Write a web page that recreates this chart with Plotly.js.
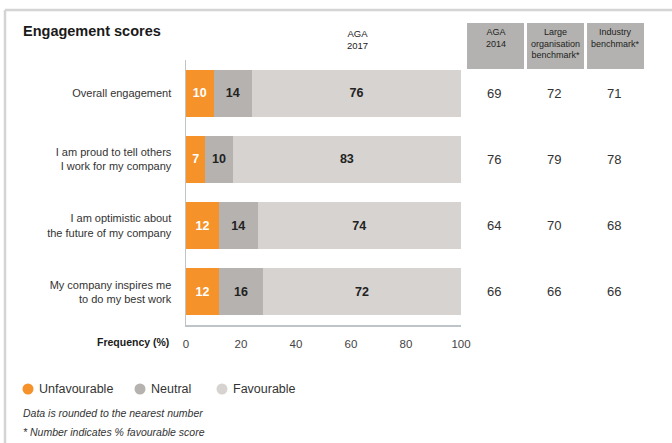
<!DOCTYPE html>
<html>
<head>
<meta charset="utf-8">
<script src="https://cdn.plot.ly/plotly-3.0.1.min.js"></script>
<style>html,body{margin:0;padding:0;background:#fff;}#chart{width:672px;height:443px;}</style>
</head>
<body>
<div id="chart"></div>
<script>
// ---- data ----
const categories = [
  "Overall engagement",
  "I am proud to tell others<br>I work for my company",
  "I am optimistic about<br>the future of my company",
  "My company inspires me<br>to do my best work"
];
const seriesNames = ["Unfavourable", "Neutral", "Favourable"];
const unfavourable = [10, 7, 12, 12];
const neutral = [14, 10, 14, 16];
const favourable = [76, 83, 74, 72];
const aga2014 = [69, 76, 64, 66];
const largeOrgBenchmark = [72, 79, 70, 66];
const industryBenchmark = [71, 78, 68, 66];
const tableHeaders = ["AGA<br>2014", "Large<br>organisation<br>benchmark*", "Industry<br>benchmark*"];
const xTicks = [0, 20, 40, 60, 80, 100];

// ---- styles ----
const FONT = "'Liberation Sans Narrow', 'Arial Narrow', 'Liberation Sans', Arial, sans-serif";
const colors = ["#f5922a", "#b5b2af", "#d6d3d0"];
const textColors = ["#ffffff", "#222222", "#222222"];
const seriesData = [unfavourable, neutral, favourable];
const yIdx = categories.map((_, i) => i);

// pixel -> paper helpers (plot area: x 186..461, y 60..325)
const L = 186, R = 461, T = 60, B = 325;
const px = x => (x - L) / (R - L);
const py = y => (B - y) / (B - T);

const traces = seriesData.map((vals, s) => ({
  type: "bar",
  orientation: "h",
  name: seriesNames[s],
  x: vals,
  y: yIdx,
  width: 0.71,
  marker: {color: colors[s], line: {width: 0}},
  text: vals.map(String),
  textposition: "inside",
  insidetextanchor: "middle",
  textfont: {family: FONT, size: 12.5, color: textColors[s], weight: "bold"},
  hoverinfo: "skip",
  showlegend: false
}));

const annotations = [];
const shapes = [];

// title
annotations.push({xref: "paper", yref: "paper", x: px(21), y: py(31), xanchor: "left", yanchor: "middle",
  text: "<b>Engagement scores</b>", showarrow: false, font: {family: FONT, size: 14.5, color: "#1a1a1a"}});
// AGA 2017 header
annotations.push({xref: "paper", yref: "paper", x: px(357), y: py(26), xanchor: "center", yanchor: "top",
  text: "AGA<br>2017", showarrow: false, align: "center", font: {family: FONT, size: 9.5, color: "#222"}});
// Frequency label
annotations.push({xref: "paper", yref: "paper", x: px(171), y: py(342), xanchor: "right", yanchor: "middle",
  text: "<b>Frequency (%)</b>", showarrow: false, font: {family: FONT, size: 10.5, color: "#1a1a1a"}});

// table headers + values
const boxEdges = [[467, 524], [527, 584], [587, 644]];
const tableCols = [aga2014, largeOrgBenchmark, industryBenchmark];
boxEdges.forEach((e, c) => {
  shapes.push({type: "rect", xref: "paper", yref: "paper", x0: px(e[0]), x1: px(e[1]), y0: py(69), y1: py(23),
    fillcolor: "#b4b2b0", line: {width: 0}, layer: "below"});
  annotations.push({xref: "paper", yref: "paper", x: px((e[0] + e[1]) / 2), y: py(25), xanchor: "center", yanchor: "top",
    text: tableHeaders[c], showarrow: false, align: "center", font: {family: FONT, size: 9, color: "#222"}});
  tableCols[c].forEach((v, i) => {
    annotations.push({xref: "paper", yref: "y", x: px((e[0] + e[1]) / 2 - 1.5), y: i, xanchor: "center", yanchor: "middle",
      text: String(v), showarrow: false, font: {family: FONT, size: 13, color: "#333"}});
  });
});

// legend (circles + text)
const legendCircleX = [28, 140, 222];
seriesNames.forEach((n, s) => {
  const cx = legendCircleX[s], cy = 389, r = 5.5;
  shapes.push({type: "circle", xref: "paper", yref: "paper", x0: px(cx - r), x1: px(cx + r), y0: py(cy + r), y1: py(cy - r),
    fillcolor: colors[s], line: {width: 0}});
  annotations.push({xref: "paper", yref: "paper", x: px(cx + 9), y: py(cy), xanchor: "left", yanchor: "middle",
    text: n, showarrow: false, font: {family: FONT, size: 12.5, color: "#333"}});
});

// notes
annotations.push({xref: "paper", yref: "paper", x: px(21), y: py(413), xanchor: "left", yanchor: "middle",
  text: "<i>Data is rounded to the nearest number</i>", showarrow: false, font: {family: FONT, size: 10.5, color: "#333"}});
annotations.push({xref: "paper", yref: "paper", x: px(21), y: py(432), xanchor: "left", yanchor: "middle",
  text: "<i>* Number indicates % favourable score</i>", showarrow: false, font: {family: FONT, size: 10.5, color: "#333"}});

// outer frame lines
shapes.push({type: "line", xref: "paper", yref: "paper", x0: px(5), x1: px(672), y0: py(10), y1: py(10), line: {color: "#d4d4d4", width: 2.5}});
shapes.push({type: "line", xref: "paper", yref: "paper", x0: px(5), x1: px(5), y0: py(10), y1: py(443), line: {color: "#d4d4d4", width: 2.5}});

const layout = {
  width: 672, height: 443,
  margin: {l: L, r: 672 - R, t: T, b: 443 - B, pad: 0},
  paper_bgcolor: "#ffffff", plot_bgcolor: "#ffffff",
  barmode: "stack",
  showlegend: false,
  xaxis: {range: [0, 100], tickvals: xTicks, ticktext: xTicks.map(String), showgrid: false, zeroline: false,
    showline: true, linecolor: "#bfc4c9", linewidth: 1.5, ticks: "", ticklabelstandoff: 8,
    tickfont: {family: FONT, size: 11.5, color: "#444"}, fixedrange: true},
  yaxis: {range: [3.5, -0.5], tickvals: yIdx, ticktext: categories, showgrid: false, zeroline: false,
    showline: true, linecolor: "#bfc4c9", linewidth: 1.5, ticks: "", ticklabelstandoff: 11,
    tickfont: {family: FONT, size: 11, color: "#333"}, fixedrange: true},
  annotations: annotations,
  shapes: shapes,
  font: {family: FONT}
};

Plotly.newPlot("chart", traces, layout, {displayModeBar: false, staticPlot: true});
</script>
</body>
</html>
